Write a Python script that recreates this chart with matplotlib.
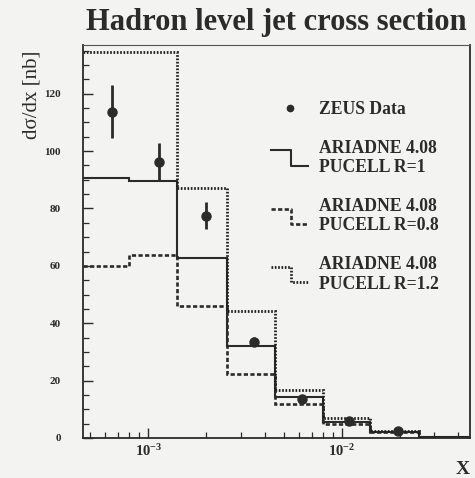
import matplotlib.pyplot as plt
from matplotlib.lines import Line2D
from matplotlib.legend_handler import HandlerBase
from matplotlib.ticker import LogLocator, MultipleLocator

# bin edges in x and the three PUCELL cone radii predictions
edges = [4.6e-4, 8.0e-4, 1.4e-3, 2.55e-3, 4.5e-3, 8.0e-3, 1.4e-2, 2.5e-2, 4.6e-2]
pucell_r10 = [90.7, 89.6, 62.7, 32.1, 14.3, 5.5, 2.2, 0.2]
pucell_r08 = [60.0, 63.8, 46.0, 22.3, 11.9, 4.9, 2.0, 0.2]
pucell_r12 = [134.6, 134.6, 87.1, 44.1, 16.7, 6.9, 2.6, 0.3]

# ZEUS measured points
zeus_x = [6.5e-4, 1.13e-3, 2.0e-3, 3.5e-3, 6.2e-3, 1.09e-2, 1.95e-2]
zeus_y = [113.7, 96.3, 77.5, 33.6, 13.5, 5.9, 2.6]
zeus_err = [9.3, 6.6, 4.8, 1.5, 1.0, 0.6, 0.4]

ink = '#2b2b2b'
paper = '#f3f3f1'
serif = 'Liberation Serif'

dash_r08 = (0, (1.6, 0.9))
dot_r12 = (0, (0.6, 0.6))


class StepHandler(HandlerBase):
    # legend key drawn as a little step going down
    def create_artists(self, legend, orig_handle, xdescent, ydescent,
                       width, height, fontsize, trans):
        x0 = -xdescent
        mid = height / 2 - ydescent
        xs = [x0, x0 + 0.55 * width, x0 + 0.55 * width, x0 + width]
        ys = [mid + 0.45 * fontsize, mid + 0.45 * fontsize,
              mid - 0.42 * fontsize, mid - 0.42 * fontsize]
        line = Line2D(xs, ys)
        line.update_from(orig_handle)
        line.set_transform(trans)
        return [line]


plt.rcParams['font.family'] = serif
plt.rcParams['mathtext.fontset'] = 'custom'
plt.rcParams['mathtext.rm'] = serif + ':bold'

fig = plt.figure(figsize=(4.75, 4.78), dpi=100, facecolor=paper)
ax = fig.add_axes([0.1747, 0.0837, 0.8148, 0.8222], facecolor=paper)

ax.stairs(pucell_r10, edges, baseline=None, color=ink, lw=1.5)
ax.stairs(pucell_r08, edges, baseline=None, color=ink, lw=1.9, linestyle=dash_r08)
ax.stairs(pucell_r12, edges, baseline=None, color='#1e1e1e', lw=2.0, linestyle=dot_r12)
ax.errorbar(zeus_x, zeus_y, yerr=zeus_err, fmt='o', color=ink, ms=6.5,
            elinewidth=2.0, capsize=0, zorder=5)

ax.set_xscale('log')
ax.set_xlim(edges[0], edges[-1])
ax.set_ylim(0, 137)

ax.yaxis.set_major_locator(MultipleLocator(20))
ax.yaxis.set_minor_locator(MultipleLocator(5))
ax.xaxis.set_major_locator(LogLocator(base=10))
ax.xaxis.set_minor_locator(LogLocator(base=10, subs=range(2, 10)))

ax.tick_params(which='both', direction='in', top=False, right=False, colors=ink)
ax.tick_params(which='major', length=7, width=1.0)
ax.tick_params(which='minor', length=4, width=0.9)
ax.tick_params(axis='y', which='major', pad=16, labelsize=8)
ax.tick_params(axis='x', which='major', pad=4, labelsize=10.5)
for lab in ax.get_yticklabels() + ax.get_xticklabels():
    lab.set_fontweight('bold')
    lab.set_color(ink)

for side in ['left', 'bottom', 'right']:
    ax.spines[side].set_color(ink)
    ax.spines[side].set_linewidth(1.3)
ax.spines['top'].set_color('#555555')
ax.spines['top'].set_linewidth(0.8)

ax.set_title('Hadron level jet cross section', fontsize=22, fontweight='bold',
             color=ink, pad=10.5)
ax.set_ylabel('d\u03c3/dx [nb]', fontsize=15, color=ink, loc='top')
ax.yaxis.set_label_coords(-0.106, 0.985)
ax.set_xlabel('X', fontsize=14, fontweight='bold', color=ink, loc='right')
ax.xaxis.set_label_coords(1.0, -0.058)
ax.xaxis.label.set_va('top')

zeus_key = Line2D([], [], marker='o', ls='none', color=ink, ms=4.5)
key_r10 = Line2D([], [], color=ink, lw=1.5)
key_r08 = Line2D([], [], color=ink, lw=1.9, linestyle=dash_r08)
key_r12 = Line2D([], [], color='#1e1e1e', lw=2.0, linestyle=dot_r12)

leg = ax.legend([zeus_key, key_r10, key_r08, key_r12],
                ['ZEUS Data', 'ARIADNE 4.08\nPUCELL R=1',
                 'ARIADNE 4.08\nPUCELL R=0.8', 'ARIADNE 4.08\nPUCELL R=1.2'],
                handler_map={key_r10: StepHandler(), key_r08: StepHandler(),
                             key_r12: StepHandler()},
                loc='upper left', bbox_to_anchor=(0.486, 0.857), frameon=False,
                prop={'family': serif, 'weight': 'bold', 'size': 12.7},
                handlelength=2.1, handletextpad=0.6, labelspacing=1.22,
                borderpad=0, borderaxespad=0)
for t in leg.get_texts():
    t.set_color(ink)
    t.set_linespacing(1.2)

fig.savefig('out.png', dpi=100, facecolor=paper)
